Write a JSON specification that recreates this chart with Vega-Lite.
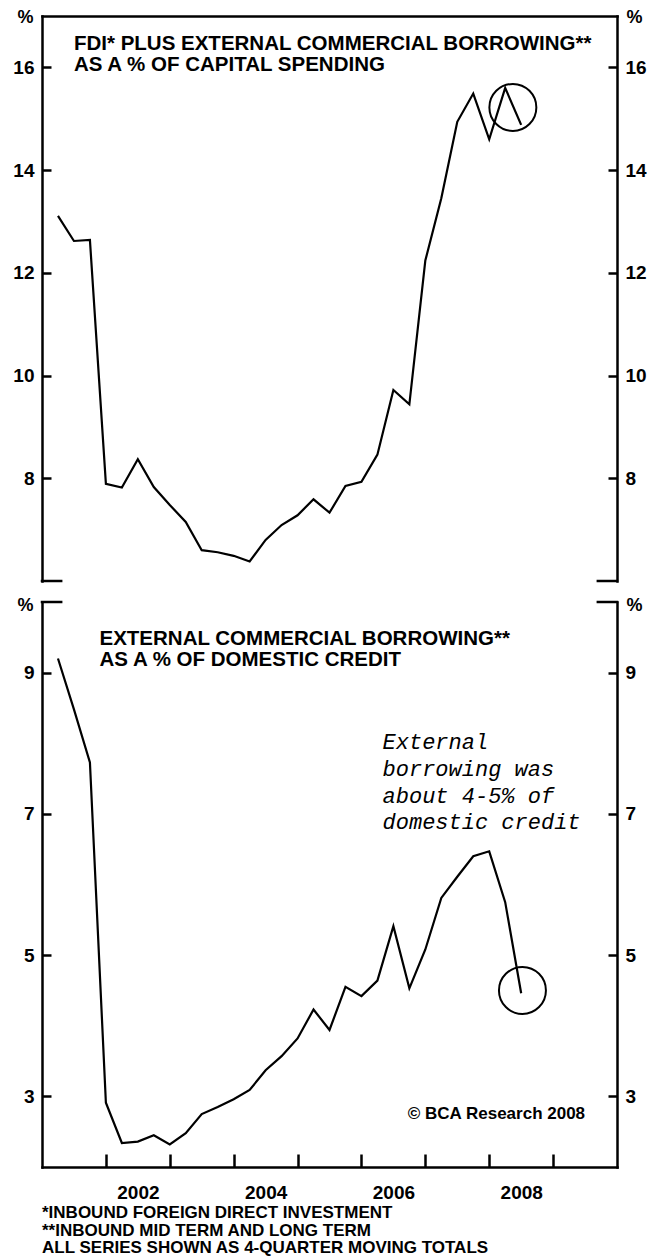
{
  "$schema": "https://vega.github.io/schema/vega-lite/v6.json",
  "padding": {"left": 12, "top": 8, "right": 0, "bottom": 0},
  "background": "white",
  "bounds": "flush",
  "spacing": 21,
  "config": {
    "font": "Liberation Sans",
    "view": {"stroke": null},
    "axis": {
      "grid": false,
      "domainColor": "black",
      "domainWidth": 2.5,
      "domainCap": "square",
      "tickColor": "black",
      "tickWidth": 2.5,
      "labelColor": "black",
      "labelFont": "Liberation Sans",
      "labelFontSize": 19,
      "labelFontWeight": "bold",
      "titleColor": "black",
      "titleFont": "Liberation Sans",
      "titleFontSize": 18,
      "titleFontWeight": "bold"
    }
  },
  "datasets": {
    "fdi_plus_ecb": [
      {"year": 2001.25, "value": 13.11},
      {"year": 2001.5, "value": 12.62},
      {"year": 2001.75, "value": 12.64},
      {"year": 2002.0, "value": 7.89},
      {"year": 2002.25, "value": 7.82},
      {"year": 2002.5, "value": 8.37},
      {"year": 2002.75, "value": 7.83},
      {"year": 2003.0, "value": 7.48},
      {"year": 2003.25, "value": 7.15},
      {"year": 2003.5, "value": 6.6},
      {"year": 2003.75, "value": 6.56},
      {"year": 2004.0, "value": 6.49},
      {"year": 2004.25, "value": 6.38},
      {"year": 2004.5, "value": 6.8},
      {"year": 2004.75, "value": 7.09},
      {"year": 2005.0, "value": 7.28},
      {"year": 2005.25, "value": 7.59},
      {"year": 2005.5, "value": 7.33},
      {"year": 2005.75, "value": 7.85},
      {"year": 2006.0, "value": 7.93},
      {"year": 2006.25, "value": 8.46},
      {"year": 2006.5, "value": 9.72},
      {"year": 2006.75, "value": 9.44},
      {"year": 2007.0, "value": 12.24},
      {"year": 2007.25, "value": 13.45},
      {"year": 2007.5, "value": 14.94},
      {"year": 2007.75, "value": 15.49},
      {"year": 2008.0, "value": 14.6},
      {"year": 2008.25, "value": 15.6},
      {"year": 2008.5, "value": 14.88}
    ],
    "ecb_share": [
      {"year": 2001.25, "value": 9.2},
      {"year": 2001.5, "value": 8.48},
      {"year": 2001.75, "value": 7.73},
      {"year": 2002.0, "value": 2.91},
      {"year": 2002.25, "value": 2.34},
      {"year": 2002.5, "value": 2.36},
      {"year": 2002.75, "value": 2.45},
      {"year": 2003.0, "value": 2.32},
      {"year": 2003.25, "value": 2.48},
      {"year": 2003.5, "value": 2.75},
      {"year": 2003.75, "value": 2.85},
      {"year": 2004.0, "value": 2.96},
      {"year": 2004.25, "value": 3.09},
      {"year": 2004.5, "value": 3.37},
      {"year": 2004.75, "value": 3.57},
      {"year": 2005.0, "value": 3.82},
      {"year": 2005.25, "value": 4.23},
      {"year": 2005.5, "value": 3.94},
      {"year": 2005.75, "value": 4.55},
      {"year": 2006.0, "value": 4.42},
      {"year": 2006.25, "value": 4.64},
      {"year": 2006.5, "value": 5.41},
      {"year": 2006.75, "value": 4.53},
      {"year": 2007.0, "value": 5.08},
      {"year": 2007.25, "value": 5.81},
      {"year": 2007.5, "value": 6.11},
      {"year": 2007.75, "value": 6.4},
      {"year": 2008.0, "value": 6.47},
      {"year": 2008.25, "value": 5.75},
      {"year": 2008.5, "value": 4.46}
    ],
    "corner_stubs": [
      {"start": 2001.0, "end": 2001.3},
      {"start": 2009.7, "end": 2010.0}
    ]
  },
  "vconcat": [
    {
      "width": 575,
      "height": 565,
      "layer": [
        {
          "data": {"name": "fdi_plus_ecb"},
          "mark": {"type": "line", "stroke": "black", "strokeWidth": 2.2},
          "encoding": {
            "x": {
              "field": "year", "type": "quantitative",
              "scale": {"domain": [2001, 2010], "nice": false, "zero": false},
              "axis": {"orient": "top", "title": null, "ticks": false, "labels": false, "domain": true}
            },
            "y": {
              "field": "value", "type": "quantitative",
              "scale": {"domain": [6, 17], "nice": false, "zero": false},
              "axis": {
                "orient": "left", "values": [8, 10, 12, 14, 16], "tickSize": -9, "labelPadding": 17,
                "title": "%", "titleAngle": 0, "titleX": -17, "titleY": 6, "titleAlign": "center", "titleBaseline": "alphabetic"
              }
            }
          }
        },
        {
          "data": {"values": [{"year": 2008.37, "value": 15.22}]},
          "mark": {"type": "point", "shape": "circle", "filled": false, "size": 2206, "stroke": "black", "strokeWidth": 2, "opacity": 1},
          "encoding": {
            "x": {"field": "year", "type": "quantitative", "scale": {"domain": [2001, 2010], "nice": false, "zero": false}},
            "y": {
              "field": "value", "type": "quantitative",
              "scale": {"domain": [6, 17], "nice": false, "zero": false},
              "axis": {
                "orient": "right", "values": [8, 10, 12, 14, 16], "tickSize": -9, "labelPadding": 17,
                "title": "%", "titleAngle": 0, "titleX": 17, "titleY": 6, "titleAlign": "center", "titleBaseline": "alphabetic"
              }
            }
          }
        },
        {
          "data": {"name": "corner_stubs"},
          "mark": {"type": "rule", "stroke": "black", "strokeWidth": 2.5, "strokeCap": "square"},
          "encoding": {
            "x": {"field": "start", "type": "quantitative", "scale": {"domain": [2001, 2010], "nice": false, "zero": false}},
            "x2": {"field": "end"},
            "y": {"datum": 6, "type": "quantitative", "scale": {"domain": [6, 17], "nice": false, "zero": false}, "axis": null}
          }
        },
        {
          "data": {"values": [{"year": 2001.5, "value": 16.338, "label": "FDI* PLUS EXTERNAL COMMERCIAL BORROWING**\nAS A % OF CAPITAL SPENDING"}]},
          "mark": {"type": "text", "align": "left", "baseline": "alphabetic", "fontSize": 20.5, "fontWeight": "bold", "lineHeight": 21, "lineBreak": "\n", "color": "black"},
          "encoding": {
            "x": {"field": "year", "type": "quantitative", "scale": {"domain": [2001, 2010], "nice": false, "zero": false}},
            "y": {"field": "value", "type": "quantitative", "scale": {"domain": [6, 17], "nice": false, "zero": false}, "axis": null},
            "text": {"field": "label", "type": "nominal"}
          }
        }
      ],
      "resolve": {"axis": {"y": "independent"}}
    },
    {
      "width": 575,
      "height": 565,
      "title": {
        "text": ["*INBOUND FOREIGN DIRECT INVESTMENT", "**INBOUND MID TERM AND LONG TERM", "ALL SERIES SHOWN AS 4-QUARTER MOVING TOTALS"],
        "orient": "bottom", "anchor": "start", "frame": "group",
        "font": "Liberation Sans", "fontSize": 17, "fontWeight": "bold", "lineHeight": 17.5, "offset": 3, "color": "black"
      },
      "layer": [
        {
          "data": {"name": "ecb_share"},
          "mark": {"type": "line", "stroke": "black", "strokeWidth": 2.2},
          "encoding": {
            "x": {
              "field": "year", "type": "quantitative",
              "scale": {"domain": [2001, 2010], "nice": false, "zero": false},
              "axis": {
                "orient": "bottom", "title": null, "values": [2002, 2003, 2004, 2005, 2006, 2007, 2008, 2009],
                "tickSize": -13, "labelPadding": 29, "labelOffset": 32, "labelOverlap": false, "labelFlush": false,
                "labelExpr": "datum.value % 2 == 0 ? format(datum.value, 'd') : ''"
              }
            },
            "y": {
              "field": "value", "type": "quantitative",
              "scale": {"domain": [2, 10], "nice": false, "zero": false},
              "axis": {
                "orient": "left", "values": [3, 5, 7, 9], "tickSize": -9, "labelPadding": 17,
                "title": "%", "titleAngle": 0, "titleX": -17, "titleY": 8, "titleAlign": "center", "titleBaseline": "alphabetic"
              }
            }
          }
        },
        {
          "data": {"values": [{"year": 2008.52, "value": 4.5}]},
          "mark": {"type": "point", "shape": "circle", "filled": false, "size": 2206, "stroke": "black", "strokeWidth": 2, "opacity": 1},
          "encoding": {
            "x": {"field": "year", "type": "quantitative", "scale": {"domain": [2001, 2010], "nice": false, "zero": false}},
            "y": {
              "field": "value", "type": "quantitative",
              "scale": {"domain": [2, 10], "nice": false, "zero": false},
              "axis": {
                "orient": "right", "values": [3, 5, 7, 9], "tickSize": -9, "labelPadding": 17,
                "title": "%", "titleAngle": 0, "titleX": 17, "titleY": 8, "titleAlign": "center", "titleBaseline": "alphabetic"
              }
            }
          }
        },
        {
          "data": {"name": "corner_stubs"},
          "mark": {"type": "rule", "stroke": "black", "strokeWidth": 2.5, "strokeCap": "square"},
          "encoding": {
            "x": {"field": "start", "type": "quantitative", "scale": {"domain": [2001, 2010], "nice": false, "zero": false}},
            "x2": {"field": "end"},
            "y": {"datum": 10, "type": "quantitative", "scale": {"domain": [2, 10], "nice": false, "zero": false}, "axis": null}
          }
        },
        {
          "data": {"values": [{"year": 2001.9, "value": 9.392, "label": "EXTERNAL COMMERCIAL BORROWING**\nAS A % OF DOMESTIC CREDIT"}]},
          "mark": {"type": "text", "align": "left", "baseline": "alphabetic", "fontSize": 20.5, "fontWeight": "bold", "lineHeight": 21, "lineBreak": "\n", "color": "black"},
          "encoding": {
            "x": {"field": "year", "type": "quantitative", "scale": {"domain": [2001, 2010], "nice": false, "zero": false}},
            "y": {"field": "value", "type": "quantitative", "scale": {"domain": [2, 10], "nice": false, "zero": false}, "axis": null},
            "text": {"field": "label", "type": "nominal"}
          }
        },
        {
          "data": {"values": [{"year": 2006.33, "value": 7.916, "label": "External\nborrowing was\nabout 4-5% of\ndomestic credit"}]},
          "mark": {"type": "text", "align": "left", "baseline": "alphabetic", "font": "Liberation Mono", "fontStyle": "italic", "fontSize": 22, "lineHeight": 26.7, "lineBreak": "\n", "color": "black"},
          "encoding": {
            "x": {"field": "year", "type": "quantitative", "scale": {"domain": [2001, 2010], "nice": false, "zero": false}},
            "y": {"field": "value", "type": "quantitative", "scale": {"domain": [2, 10], "nice": false, "zero": false}, "axis": null},
            "text": {"field": "label", "type": "nominal"}
          }
        },
        {
          "data": {"values": [{"year": 2009.5, "value": 2.68, "label": "© BCA Research 2008"}]},
          "mark": {"type": "text", "align": "right", "baseline": "alphabetic", "fontSize": 17, "fontWeight": "bold", "color": "black"},
          "encoding": {
            "x": {"field": "year", "type": "quantitative", "scale": {"domain": [2001, 2010], "nice": false, "zero": false}},
            "y": {"field": "value", "type": "quantitative", "scale": {"domain": [2, 10], "nice": false, "zero": false}, "axis": null},
            "text": {"field": "label", "type": "nominal"}
          }
        }
      ],
      "resolve": {"axis": {"y": "independent"}}
    }
  ]
}
